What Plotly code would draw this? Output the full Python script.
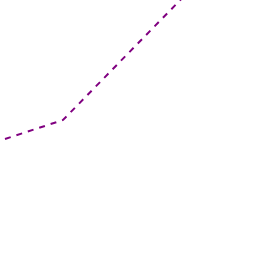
import plotly.graph_objects as go

x_vals = [0, 1, 4]
y_vals = [5.85, 6.8, 15.7]

fig = go.Figure()
fig.add_trace(go.Scatter(
    x=x_vals, y=y_vals, mode="lines",
    line=dict(color="#800080", width=2, dash="6px,6px"),
    showlegend=False,
))
fig.update_layout(
    width=256, height=256,
    margin=dict(l=0, r=0, t=0, b=0),
    paper_bgcolor="white", plot_bgcolor="white",
    xaxis=dict(visible=False, range=[-5/58, 251/58]),
    yaxis=dict(visible=False, range=[0, 12.8]),
)
fig.write_html("out.html")
